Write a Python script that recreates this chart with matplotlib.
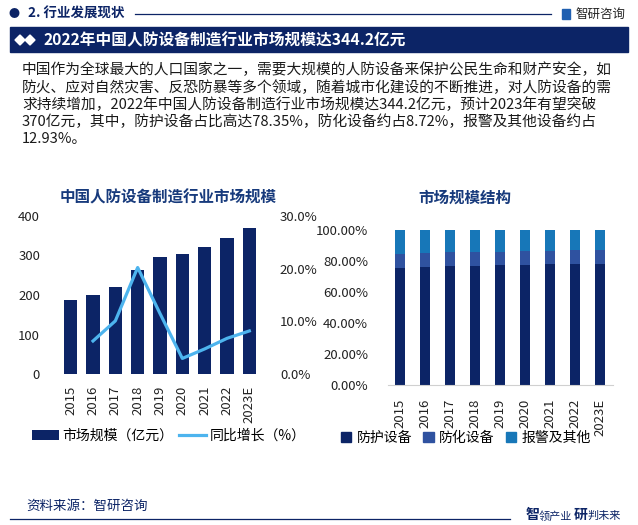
import matplotlib
matplotlib.use('Agg')
import matplotlib.pyplot as plt
from matplotlib.patches import Rectangle, Polygon, Patch
from matplotlib.lines import Line2D
import matplotlib.ticker as ticker
import numpy as np

plt.rcParams['font.family'] = ['Noto Sans CJK SC', 'DejaVu Sans']

# data
years = ['2015', '2016', '2017', '2018', '2019', '2020', '2021', '2022', '2023E']
market_size = [187.4, 199.5, 219.6, 264.3, 294.9, 304.6, 320.1, 344.2, 370.0]   # 亿元
growth = [6.3, 10.1, 20.2, 11.5, 3.0, 4.8, 6.8, 8.2]   # %, from 2016
protect = [75.7, 76.3, 77.0, 77.0, 77.6, 77.6, 78.3, 78.35, 78.3]
chem = [9.0, 8.9, 9.0, 9.0, 8.4, 9.1, 8.4, 8.72, 9.0]
alarm = [100 - p - c for p, c in zip(protect, chem)]

title = '2022年中国人防设备制造行业市场规模达344.2亿元'
paragraph = [
    '中国作为全球最大的人口国家之一，需要大规模的人防设备来保护公民生命和财产安全，如',
    '防火、应对自然灾害、反恐防暴等多个领域，随着城市化建设的不断推进，对人防设备的需',
    '求持续增加，2022年中国人防设备制造行业市场规模达344.2亿元，预计2023年有望突破',
    '370亿元，其中，防护设备占比高达78.35%，防化设备约占8.72%，报警及其他设备约占',
    '12.93%。',
]

NAVY = '#0c2466'
LIGHT = '#4db4ee'
MID = '#2f52a0'
BLUE = '#1777b8'
TITLE_C = '#173a7c'

W, H = 638, 525
fig = plt.figure(figsize=(W / 100, H / 100), dpi=100)


def rect(l, t, r, b):
    return [l / W, 1 - b / H, (r - l) / W, (b - t) / H]


def fx(x):
    return x / W


def fy(y):
    return 1 - y / H


# header
fig.text(fx(14), fy(14), '●', color=NAVY, fontsize=8, ha='center', va='center')
fig.text(fx(28), fy(14), '2. 行业发展现状', color=NAVY, fontsize=9.7, fontweight='bold',
         ha='left', va='center')
fig.add_artist(Line2D([fx(135), fx(551)], [fy(14), fy(14)], color=NAVY, lw=0.9))
fig.add_artist(Rectangle((fx(562), fy(19)), 8 / W, 10 / H, color='#1f5fb0'))
fig.text(fx(575), fy(14), '智研咨询', color='#222222', fontsize=9, ha='left', va='center')

# title bar
fig.add_artist(Rectangle((fx(10), fy(52)), 618 / W, 25 / H, color=NAVY))
for dx in (20, 30):
    fig.add_artist(Polygon([(fx(dx - 5), fy(40)), (fx(dx), fy(35)), (fx(dx + 5), fy(40)), (fx(dx), fy(45))],
                           closed=True, color='white'))
fig.text(fx(43), fy(40), title, color='white', fontsize=11.3, fontweight='bold', ha='left', va='center')

# paragraph
for i, line in enumerate(paragraph):
    fig.text(fx(22), fy(70 + i * 17.2), line, color='#1a1a1a', fontsize=10.6, ha='left', va='center')

# left chart
fig.text(fx(168), fy(197), '中国人防设备制造行业市场规模', color=TITLE_C, fontsize=11.2,
         fontweight='bold', ha='center', va='center')
ax = fig.add_axes(rect(59.5, 215.7, 260.5, 374.3))
x = np.arange(len(years))
bars = ax.bar(x, market_size, width=0.6, color=NAVY)
ax.set_xlim(-0.5, len(years) - 0.5)
ax.set_ylim(0, 400)
ax.set_yticks([0, 100, 200, 300, 400])
ax.set_xticks(x)
ax.set_xticklabels(years, rotation=90)
ax.tick_params(length=0, labelsize=9.5, colors='#222222')
ax.tick_params(axis='y', pad=14)
ax.tick_params(axis='x', pad=8)
for s in ax.spines.values():
    s.set_visible(False)
ax2 = ax.twinx()
ln, = ax2.plot(x[1:], growth, color=LIGHT, lw=2.3)
ax2.set_ylim(0, 30)
ax2.set_yticks([0, 10, 20, 30])
ax2.yaxis.set_major_formatter(ticker.FuncFormatter(lambda v, p: f'{v:.1f}%'))
ax2.tick_params(length=0, labelsize=9.5, colors='#222222', pad=14)
for s in ax2.spines.values():
    s.set_visible(False)
fig.legend([bars, ln], ['市场规模（亿元）', '同比增长（%）'], loc='center',
           bbox_to_anchor=(fx(169), fy(436)), ncol=2, frameon=False, fontsize=10,
           handlelength=1.9, handleheight=0.8, columnspacing=0.4, handletextpad=0.3)

# right chart
fig.text(fx(465), fy(198), '市场规模结构', color=TITLE_C, fontsize=11.2,
         fontweight='bold', ha='center', va='center')
bx = fig.add_axes(rect(387.5, 230, 612.5, 385))
bx.bar(x, protect, width=0.4, color=NAVY)
bx.bar(x, chem, width=0.4, bottom=protect, color=MID)
bx.bar(x, alarm, width=0.4, bottom=[p + c for p, c in zip(protect, chem)], color=BLUE)
bx.set_xlim(-0.5, len(years) - 0.5)
bx.set_ylim(0, 100)
bx.set_yticks([0, 20, 40, 60, 80, 100])
bx.yaxis.set_major_formatter(ticker.FuncFormatter(lambda v, p: f'{v:.2f}%'))
bx.set_xticks(x)
bx.set_xticklabels(years, rotation=90)
bx.tick_params(length=0, labelsize=9.5, colors='#222222')
bx.tick_params(axis='y', pad=14)
bx.tick_params(axis='x', pad=10)
for k, s in bx.spines.items():
    s.set_visible(k == 'bottom')
bx.spines['bottom'].set_color('#d0d0d0')
fig.legend([Patch(color=NAVY), Patch(color=MID), Patch(color=BLUE)], ['防护设备', '防化设备', '报警及其他'],
           loc='center', bbox_to_anchor=(fx(466), fy(438)), ncol=3, frameon=False, fontsize=10,
           handlelength=0.75, handleheight=0.75, columnspacing=0.8, handletextpad=0.4)

# footer
fig.text(fx(26), fy(506), '资料来源：智研咨询', color=NAVY, fontsize=9.7, ha='left', va='center')
fig.add_artist(Line2D([fx(10), fx(510)], [fy(519), fy(519)], color=NAVY, lw=0.9))
fig.text(fx(526), fy(515), '智', color=NAVY, fontsize=10, fontweight='bold', ha='left', va='center')
fig.text(fx(539), fy(516), '领产业', color=NAVY, fontsize=8, ha='left', va='center')
fig.text(fx(574), fy(515), '研', color=NAVY, fontsize=10, fontweight='bold', ha='left', va='center')
fig.text(fx(587), fy(516), '判未来', color=NAVY, fontsize=8, ha='left', va='center')

fig.savefig('out.png', dpi=100)
